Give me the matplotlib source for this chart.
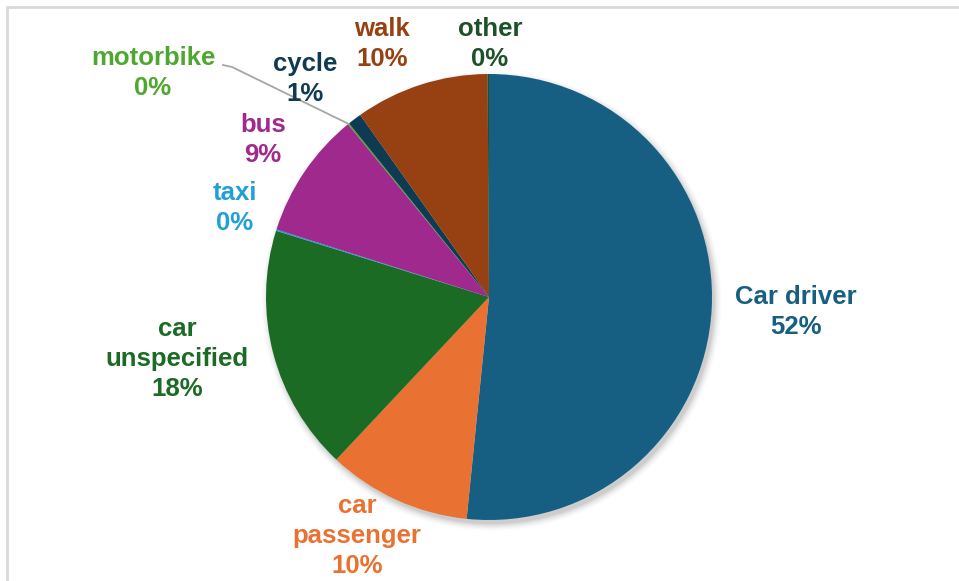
import numpy as np
import matplotlib.pyplot as plt
from matplotlib.patches import Circle, Rectangle

plt.rcParams['font.family'] = ['Liberation Sans', 'DejaVu Sans']

# travel mode shares, clockwise from 12 o'clock
modes = ['Car driver', 'car\npassenger', 'car\nunspecified', 'taxi', 'bus',
         'motorbike', 'cycle', 'walk', 'other']
shares = [51.6, 10.4, 17.8, 0.1, 9.2, 0.1, 1.0, 9.7, 0.1]
slice_colors = ['#175f82', '#e97132', '#1b6b25', '#21a0d8', '#a0298e',
                '#4ea72e', '#0f3b52', '#974011', '#1e5128']
text_colors = ['#175f82', '#e97132', '#1b6b25', '#21a0d8', '#a0298e',
               '#4ea72e', '#0f3b52', '#974011', '#1e5128']

W, H = 959, 581
cx, cy, R = 489, 297, 223  # pie centre / radius in pixels

fig = plt.figure(figsize=(W / 100, H / 100), dpi=100)
ax = fig.add_axes([0, 0, 1, 1])

wedges, _ = ax.pie(shares, colors=slice_colors, startangle=90,
                   counterclock=False, radius=1.0,
                   wedgeprops=dict(linewidth=0, zorder=1))

# pie() resets the limits, so set them afterwards
ax.set_aspect('auto')
ax.set_xlim(-cx / R, (W - cx) / R)
ax.set_ylim(-(H - cy) / R, cy / R)
ax.axis('off')

# light grey chart frame
fig.patches.append(Rectangle((7 / W, -0.01), 1.0, 1 - 7 / H + 0.01,
                             transform=fig.transFigure, fill=False,
                             edgecolor='#d9d9d9', linewidth=2))

# soft shadow under the pie
for i, a in enumerate(np.linspace(0.05, 0.015, 6)):
    ax.add_patch(Circle((0.012, -0.018), 1.0 + 0.006 * i, color='black',
                        alpha=a, linewidth=0, zorder=0))

# label centres (pixels)
label_px = [(796, 312), (357, 536), (177, 359), (235, 208), (263, 140),
            (153, 73), (305, 79), (382, 44), (490, 44)]

for name, v, col, (px, py) in zip(modes, shares, text_colors, label_px):
    ax.text((px - cx) / R, (cy - py) / R, f'{name}\n{v:.0f}%', color=col,
            ha='center', va='center', fontsize=18.5, fontweight='bold',
            linespacing=1.32, zorder=3)

# leader line for motorbike
mb = wedges[modes.index('motorbike')]
mid = np.deg2rad((mb.theta1 + mb.theta2) / 2)
ex, ey = np.cos(mid), np.sin(mid)
sx, sy = (223 - cx) / R, (cy - 65) / R
kx, ky = (232 - cx) / R, (cy - 67) / R
ax.plot([sx, kx, ex], [sy, ky, ey], color='#a6a6a6', linewidth=1.3, zorder=2)

fig.savefig('out.png', dpi=100)
